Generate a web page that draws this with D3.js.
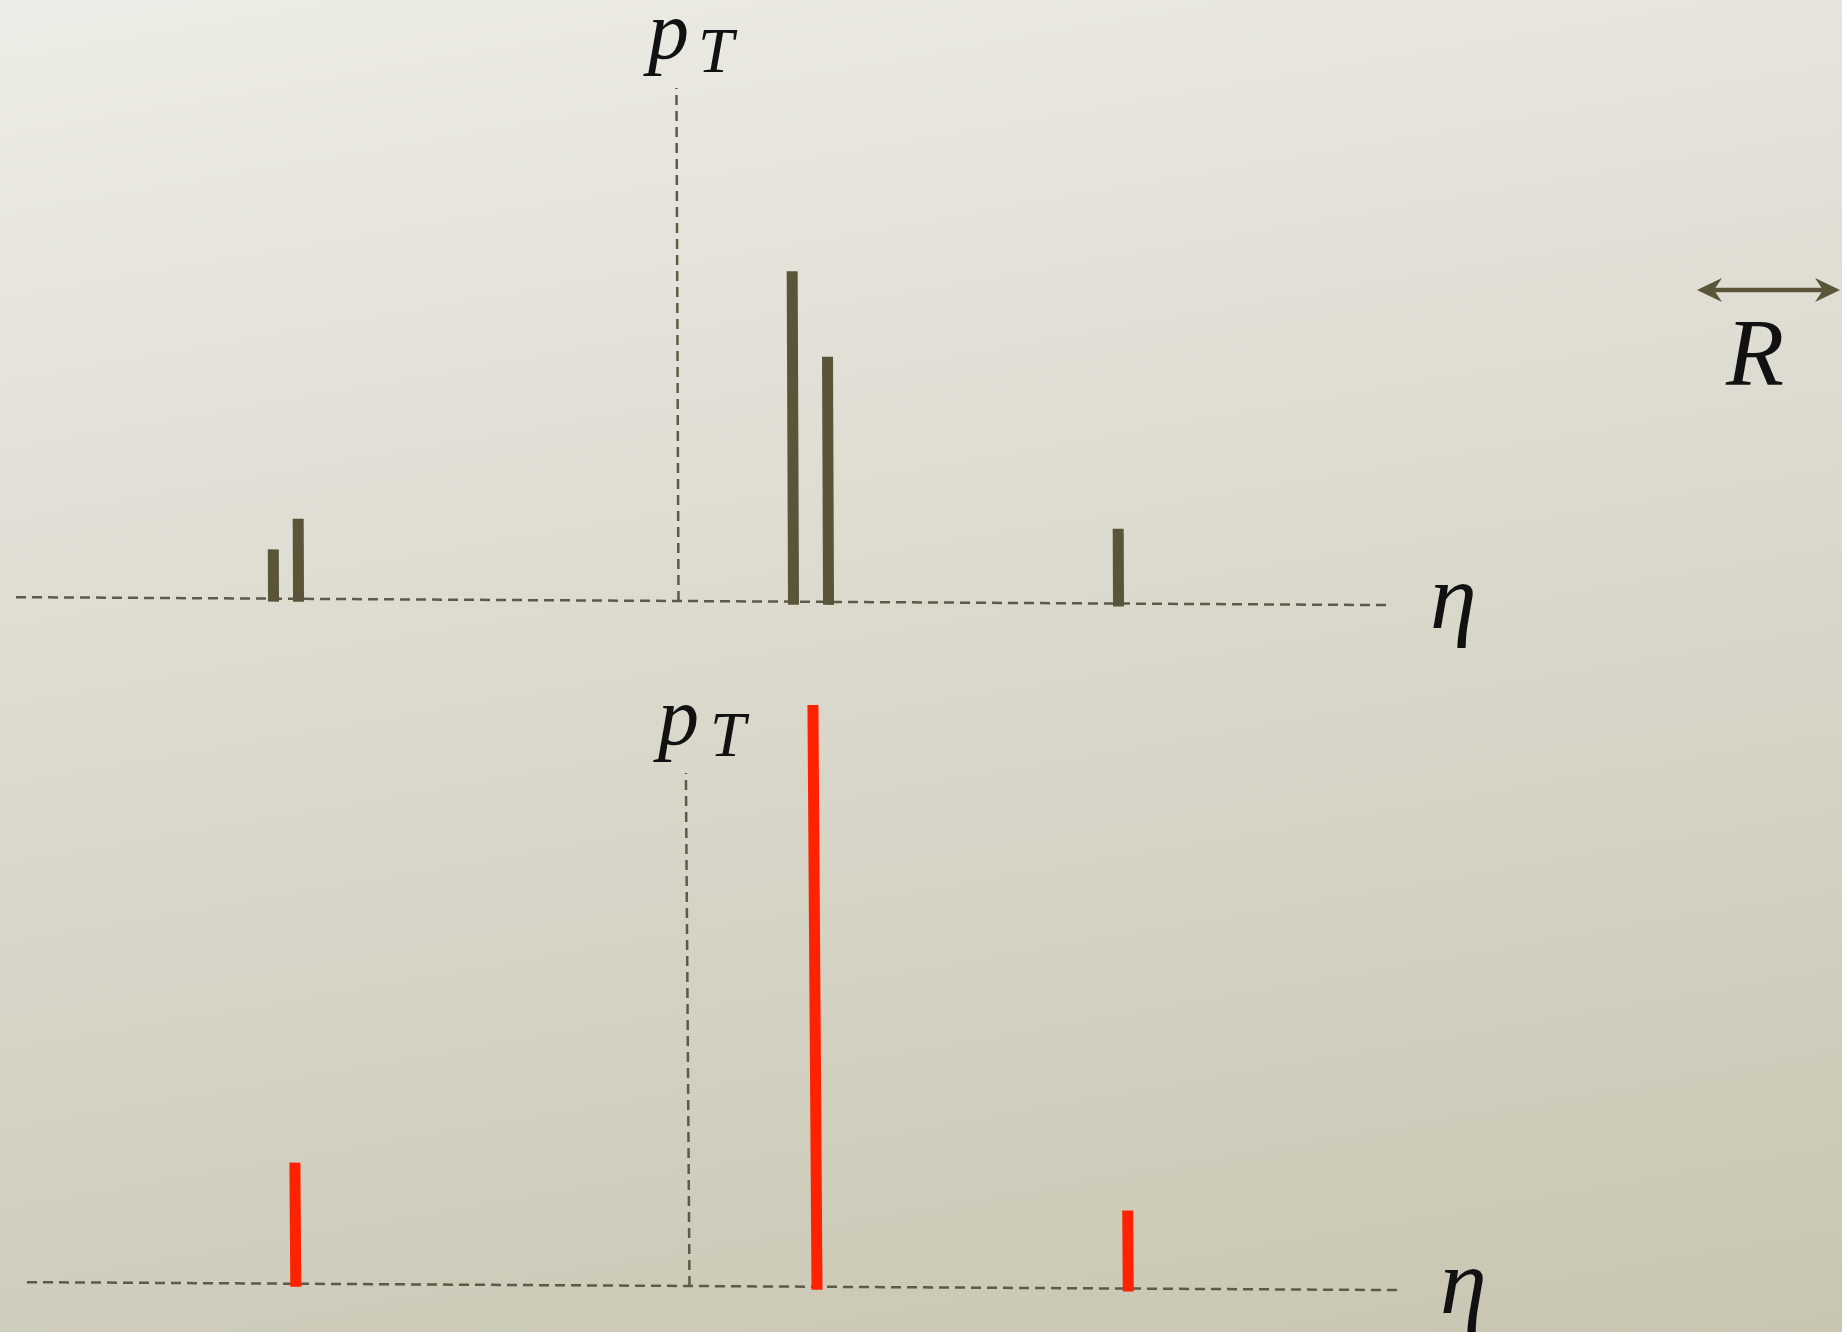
<!DOCTYPE html>
<html>
<head>
<meta charset="utf-8">
<script src="https://cdn.jsdelivr.net/npm/d3@7"></script>
<style>
  html, body { margin: 0; padding: 0; overflow: hidden; }
</style>
</head>
<body>
<div class="plot"></div>
<script>
/* particles before clustering (eta, pT) */
const particleEta = [-1.62, -1.52, 0.46, 0.60, 1.76];
const particlePt = [4.8, 7.8, 32.2, 23.9, 7.3];

/* jets after clustering */
const jetEta = [-1.575, 0.51, 1.755];
const jetPt = [11.8, 56.7, 7.6];

/* axis extents */
const etaExtent = [-2.65, 2.83];
const ptExtent = [0, 50];

const W = 1842, H = 1332;
const mathFont = "'Liberation Serif', 'Times New Roman', serif";

const svg = d3.select(".plot").append("svg")
  .attr("width", W)
  .attr("height", H);

/* background gradient */
const grad = svg.append("defs").append("linearGradient")
  .attr("id", "bg")
  .attr("gradientUnits", "userSpaceOnUse")
  .attr("x1", 0).attr("y1", 0)
  .attr("x2", 278).attr("y2", 1603);
grad.append("stop").attr("offset", 0).attr("stop-color", "#edece6");
grad.append("stop").attr("offset", 1).attr("stop-color", "#c8c5b1");

svg.append("rect")
  .attr("width", W).attr("height", H)
  .attr("fill", "url(#bg)");

/* scales (local panel coords, origin at eta=0 / pT=0) */
const x = d3.scaleLinear().domain(etaExtent).range([-662, 708]);
const y = d3.scaleLinear().domain(ptExtent).range([0, -513]);

const axisColor = "#5d5a47";

function panel(ox, oy, skew, etas, pts, color) {
  const g = svg.append("g")
    .attr("transform", `matrix(1, 0.0058, ${skew}, 1, ${ox}, ${oy})`);

  /* eta axis */
  g.append("line")
    .attr("x1", x(etaExtent[0])).attr("x2", x(etaExtent[1]))
    .attr("y1", y(0)).attr("y2", y(0))
    .attr("stroke", axisColor)
    .attr("stroke-width", 2.5)
    .attr("stroke-dasharray", "10 6");

  /* pT axis */
  g.append("line")
    .attr("x1", x(0)).attr("x2", x(0))
    .attr("y1", y(0)).attr("y2", y(ptExtent[1]))
    .attr("stroke", axisColor)
    .attr("stroke-width", 2.5)
    .attr("stroke-dasharray", "10 6");

  /* bars */
  g.selectAll(".bar")
    .data(d3.zip(etas, pts))
    .join("rect")
      .attr("class", "bar")
      .attr("x", d => x(d[0]) - 5.5)
      .attr("width", 11)
      .attr("y", d => y(d[1]))
      .attr("height", d => y(0) - y(d[1]) + 3)
      .attr("fill", color);
  return g;
}

panel(678, 601, 0.004, particleEta, particlePt, "#5a5439");
panel(689, 1286, 0.007, jetEta, jetPt, "#ff2200");

/* math labels */
function mathText(tx, ty, size, str) {
  return svg.append("text")
    .attr("x", tx).attr("y", ty)
    .attr("font-family", mathFont)
    .attr("font-style", "italic")
    .attr("font-size", size)
    .attr("fill", "#111")
    .text(str);
}
mathText(648, 58, 82, "p");
mathText(698, 72, 64, "T");
mathText(658, 744, 82, "p");
mathText(710, 756, 64, "T");

mathText(1430, 628, 94, "η");
mathText(1440, 1313, 94, "η");

/* R scale arrow */
const ay = 290, ax1 = 1697, ax2 = 1840;
svg.append("line")
  .attr("x1", ax1 + 10).attr("x2", ax2 - 10)
  .attr("y1", ay).attr("y2", ay)
  .attr("stroke", "#5a5439")
  .attr("stroke-width", 4.5);
svg.append("path")
  .attr("d", `M${ax1},${ay} L${ax1 + 25},${ay - 12} L${ax1 + 17},${ay} L${ax1 + 25},${ay + 12} Z`)
  .attr("fill", "#5a5439");
svg.append("path")
  .attr("d", `M${ax2},${ay} L${ax2 - 25},${ay - 12} L${ax2 - 17},${ay} L${ax2 - 25},${ay + 12} Z`)
  .attr("fill", "#5a5439");

mathText(1726, 385, 95, "R");
</script>
</body>
</html>
